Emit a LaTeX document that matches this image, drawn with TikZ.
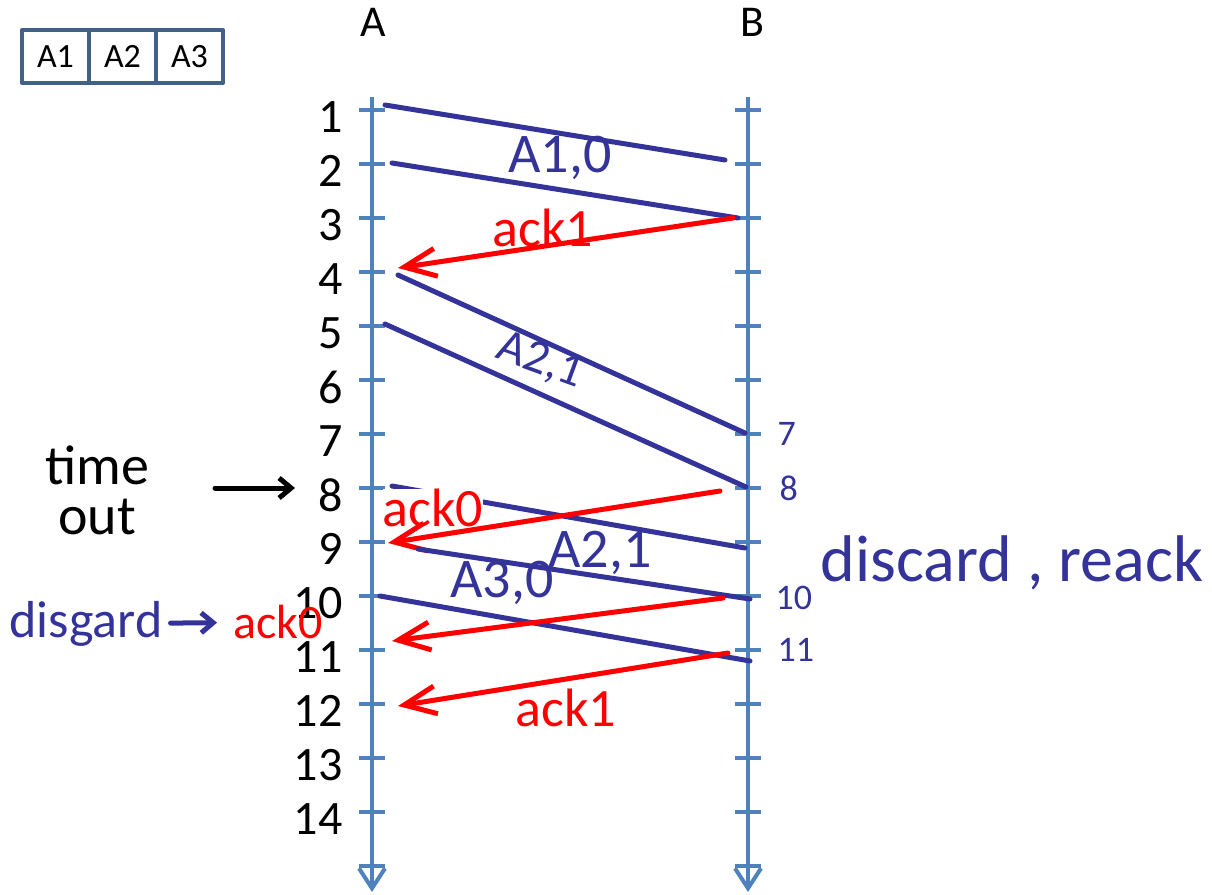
\documentclass[tikz,border=0pt]{standalone}
\usepackage{fontspec}
\setmainfont{Carlito}
\usetikzlibrary{arrows.meta, positioning, calc}
\definecolor{axisblue}{HTML}{4F81BD}
\definecolor{penblue}{HTML}{333399}
\definecolor{penred}{HTML}{FF0000}
\definecolor{cellblue}{HTML}{41618A}
\tikzset{
    seqdiagram/.style={x=1pt, y=-1pt, line cap=round, line join=round},
    timeline/.style={axisblue, line width=4pt, line cap=butt, -{Straight Barb[length=20pt, width=26pt, line width=4pt]}},
    tickmark/.style={axisblue, line width=4pt, line cap=butt},
    cell/.style={draw=cellblue, line width=4pt, outer sep=0pt, inner sep=0pt, minimum width=67pt, minimum height=53pt, font=\fontsize{34}{38}\selectfont},
    head/.style={font=\fontsize{44}{48}\selectfont},
    stepnum/.style={font=\fontsize{48}{52}\selectfont, anchor=east},
    bnum/.style={penblue, font=\fontsize{36}{40}\selectfont, anchor=west},
    data/.style={penblue, line width=5pt},
    ack/.style={penred, line width=5pt, -{Straight Barb[length=32pt, width=28pt, line width=5pt]}},
    datalabel/.style={penblue, font=\fontsize{56}{60}\selectfont, inner sep=0pt},
    acklabel/.style={penred, font=\fontsize{54}{58}\selectfont, inner sep=0pt},
    note/.style={font=\fontsize{56}{50}\selectfont, align=center, inner sep=0pt},
    hand/.style={line width=5pt, -{Straight Barb[length=12pt, width=20pt, line width=5pt]}},
}

\begin{document}
\begin{tikzpicture}[seqdiagram]
    \useasboundingbox (0,0) rectangle (1212,894);

    % sender buffer
    \node[cell]                   (c1) at (55.5,56.5) {A1};
    \node[cell, right=0pt of c1]  (c2) {A2};
    \node[cell, right=0pt of c2]  (c3) {A3};

    \node[head] (hA) at (373,22) {A};
    \node[head] (hB) at (752,22) {B};

    \coordinate (atop) at (372,97);
    \coordinate (abot) at (372,892);
    \coordinate (btop) at (748,97);
    \coordinate (bbot) at (748,892);
    \draw[timeline] (atop) -- (abot);
    \draw[timeline] (btop) -- (bbot);

    \foreach \i in {1,...,15} {
        \coordinate (a\i) at (372,{56+54*\i});
        \coordinate (b\i) at (748,{56+54*\i});
        \draw[tickmark] ($(a\i)+(-13,0)$) -- ($(a\i)+(13,0)$);
        \draw[tickmark] ($(b\i)+(-13,0)$) -- ($(b\i)+(13,0)$);
    }
    \foreach \i in {1,...,14}
        \node[stepnum] (n\i) at ($(a\i)+(-26,7)$) {\i};

    \node[bnum] (m7)  at ($(b7)+(26,0)$)  {7};
    \node[bnum] (m8)  at ($(b8)+(28,0)$)  {8};
    \node[bnum] (m10) at ($(b10)+(24,2)$) {10};
    \node[bnum] (m11) at ($(b11)+(26,0)$) {11};

    % first round
    \draw[data] ($(a1)+(13,-5)$) -- ($(b2)+(-23,-4)$);
    \draw[data] ($(a2)+(20,-1)$) -- ($(b3)+(-10,0)$);
    \node[datalabel] (l1) at (560,158) {A1,0};
    \draw[ack] ($(b3)+(-15,0)$) -- ($(a4)+(26,-4)$);
    \node[acklabel] (k1) at (543,228) {ack1};

    % second round, lost in transit
    \draw[data] ($(a4)+(26,3)$) -- ($(b7)+(-3,-1)$);
    \draw[data] ($(a5)+(13,-2)$) -- ($(b8)+(-2,-1)$);
    \node[datalabel, rotate=-20, font=\fontsize{48}{52}\selectfont] (l2) at (540,361) {A2,1};

    % time out, resend
    \draw[data] ($(a8)+(20,-2)$) -- ($(b9)+(-3,6)$);
    \node[acklabel, fill=white] (k2) at (433,508) {ack0};
    \draw[ack] ($(b8)+(-28,3)$) -- ($(a9)+(16,1)$);
    \draw[data] ($(a9)+(46,7)$) -- ($(b10)+(2,3)$);
    \node[datalabel] (l3) at (600,553) {A2,1};
    \draw[data] ($(a10)+(8,0)$) -- ($(b11)+(2,11)$);
    \node[datalabel] (l4) at (502,583) {A3,0};
    \draw[ack] ($(b10)+(-25,2)$) -- ($(a11)+(20,-9)$);
    \draw[ack] ($(b11)+(-20,3)$) -- ($(a12)+(26,2)$);
    \node[acklabel] (k3) at (566,708) {ack1};

    % notes
    \node[note] (tout) at (97,490) {time\\out};
    \draw[hand] ($(a8)+(-157,0)$) -- ($(a8)+(-77,0)$);
    \node[note, penblue, font=\fontsize{52}{56}\selectfont] (dg) at (86,624) {disgard};
    \node[note, penred, font=\fontsize{48}{52}\selectfont] (dack) at (278,622) {ack0};
    \draw[hand, penblue, shorten <=8pt, shorten >=16pt] (dg) -- (dack);
    \node[note, penblue, font=\fontsize{66}{66}\selectfont] (rk) at (1012,563) {discard , reack};
\end{tikzpicture}
\end{document}
